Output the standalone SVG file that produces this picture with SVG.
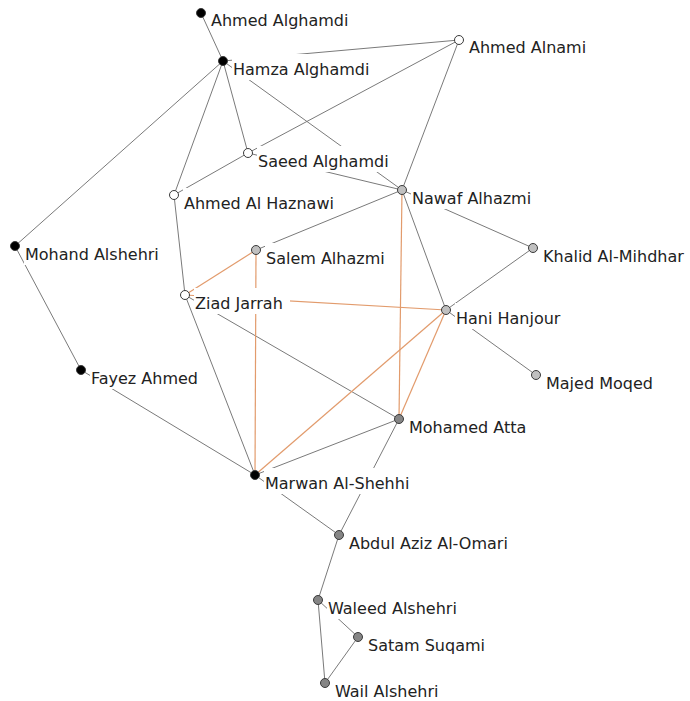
<svg xmlns="http://www.w3.org/2000/svg" width="690" height="701" viewBox="0 0 690 701">
<style>
.e{stroke:#7a7a7a;stroke-width:1;fill:none}
.o{stroke:#e29b6c;stroke-width:1.2;fill:none}
.bg{fill:#ffffff}
circle{stroke:#3a3a3a;stroke-width:1}
.k{fill:#000000}
.w{fill:#ffffff}
.l{fill:#c0c0c0}
.d{fill:#858585}
text{font-family:"DejaVu Sans",Verdana,sans-serif;font-size:16px;fill:#222222}
</style>
<rect width="690" height="701" fill="#ffffff"/>
<g id="connectors">
<line class="e" x1="201" y1="13" x2="223" y2="61"/>
<line class="e" x1="223" y1="61" x2="459" y2="40"/>
<line class="e" x1="223" y1="61" x2="248" y2="153"/>
<line class="e" x1="223" y1="61" x2="174" y2="195"/>
<line class="e" x1="223" y1="61" x2="15" y2="246"/>
<line class="e" x1="223" y1="61" x2="402" y2="190"/>
<line class="e" x1="459" y1="40" x2="248" y2="153"/>
<line class="e" x1="459" y1="40" x2="402" y2="190"/>
<line class="e" x1="248" y1="153" x2="174" y2="195"/>
<line class="e" x1="248" y1="153" x2="402" y2="190"/>
<line class="e" x1="174" y1="195" x2="185" y2="295"/>
<line class="e" x1="402" y1="190" x2="256" y2="250"/>
<line class="e" x1="402" y1="190" x2="533" y2="248"/>
<line class="e" x1="402" y1="190" x2="446" y2="310"/>
<line class="e" x1="446" y1="310" x2="533" y2="248"/>
<line class="e" x1="446" y1="310" x2="536" y2="375"/>
<line class="e" x1="185" y1="295" x2="399" y2="419"/>
<line class="e" x1="185" y1="295" x2="255" y2="475"/>
<line class="e" x1="15" y1="246" x2="81" y2="370"/>
<line class="e" x1="81" y1="370" x2="255" y2="475"/>
<line class="e" x1="399" y1="419" x2="255" y2="475"/>
<line class="e" x1="399" y1="419" x2="339" y2="535"/>
<line class="e" x1="255" y1="475" x2="339" y2="535"/>
<line class="e" x1="339" y1="535" x2="318" y2="600"/>
<line class="e" x1="318" y1="600" x2="358" y2="637"/>
<line class="e" x1="318" y1="600" x2="325" y2="683"/>
<line class="e" x1="358" y1="637" x2="325" y2="683"/>
<line class="o" x1="402" y1="190" x2="399" y2="419"/>
<line class="o" x1="256" y1="250" x2="185" y2="295"/>
<line class="o" x1="256" y1="250" x2="255" y2="475"/>
<line class="o" x1="185" y1="295" x2="446" y2="310"/>
<line class="o" x1="446" y1="310" x2="399" y2="419"/>
<line class="o" x1="446" y1="310" x2="255" y2="475"/>
</g>
<g id="n-ahmed-alghamdi"><rect class="bg" x="210" y="6" width="144" height="26"/><circle class="k" cx="201" cy="13" r="4.5"/><text x="211" y="26">Ahmed Alghamdi</text></g>
<g id="n-hamza-alghamdi"><rect class="bg" x="232" y="54" width="143" height="26"/><circle class="k" cx="223" cy="61" r="4.5"/><text x="233" y="75">Hamza Alghamdi</text></g>
<g id="n-ahmed-alnami"><rect class="bg" x="468" y="33" width="124" height="26"/><circle class="w" cx="459" cy="40" r="4.5"/><text x="469" y="53">Ahmed Alnami</text></g>
<g id="n-saeed-alghamdi"><rect class="bg" x="257" y="146" width="137" height="26"/><circle class="w" cx="248" cy="153" r="4.5"/><text x="258" y="167">Saeed Alghamdi</text></g>
<g id="n-ahmed-al-haznawi"><rect class="bg" x="183" y="188" width="156" height="26"/><circle class="w" cx="174" cy="195" r="4.5"/><text x="184" y="209">Ahmed Al Haznawi</text></g>
<g id="n-nawaf-alhazmi"><rect class="bg" x="411" y="183" width="126" height="26"/><circle class="l" cx="402" cy="190" r="4.5"/><text x="412" y="204">Nawaf Alhazmi</text></g>
<g id="n-mohand-alshehri"><rect class="bg" x="24" y="239" width="141" height="26"/><circle class="k" cx="15" cy="246" r="4.5"/><text x="25" y="260">Mohand Alshehri</text></g>
<g id="n-salem-alhazmi"><rect class="bg" x="265" y="243" width="126" height="26"/><circle class="l" cx="256" cy="250" r="4.5"/><text x="266" y="264">Salem Alhazmi</text></g>
<g id="n-khalid-al-mihdhar"><rect class="bg" x="542" y="241" width="147" height="26"/><circle class="l" cx="533" cy="248" r="4.5"/><text x="543" y="262">Khalid Al-Mihdhar</text></g>
<g id="n-ziad-jarrah"><rect class="bg" x="194" y="288" width="96" height="26"/><circle class="w" cx="185" cy="295" r="4.5"/><text x="195" y="309">Ziad Jarrah</text></g>
<g id="n-hani-hanjour"><rect class="bg" x="455" y="303" width="111" height="26"/><circle class="l" cx="446" cy="310" r="4.5"/><text x="456" y="324">Hani Hanjour</text></g>
<g id="n-majed-moqed"><rect class="bg" x="545" y="368" width="114" height="26"/><circle class="l" cx="536" cy="375" r="4.5"/><text x="546" y="389">Majed Moqed</text></g>
<g id="n-fayez-ahmed"><rect class="bg" x="90" y="363" width="115" height="26"/><circle class="k" cx="81" cy="370" r="4.5"/><text x="91" y="384">Fayez Ahmed</text></g>
<g id="n-mohamed-atta"><rect class="bg" x="408" y="412" width="124" height="26"/><circle class="d" cx="399" cy="419" r="4.5"/><text x="409" y="433">Mohamed Atta</text></g>
<g id="n-marwan-al-shehhi"><rect class="bg" x="264" y="468" width="151" height="26"/><circle class="k" cx="255" cy="475" r="4.5"/><text x="265" y="489">Marwan Al-Shehhi</text></g>
<g id="n-abdul-aziz-al-omari"><rect class="bg" x="348" y="528" width="165" height="26"/><circle class="d" cx="339" cy="535" r="4.5"/><text x="349" y="549">Abdul Aziz Al-Omari</text></g>
<g id="n-waleed-alshehri"><rect class="bg" x="327" y="593" width="146" height="26"/><circle class="d" cx="318" cy="600" r="4.5"/><text x="328" y="614">Waleed Alshehri</text></g>
<g id="n-satam-suqami"><rect class="bg" x="367" y="630" width="124" height="26"/><circle class="d" cx="358" cy="637" r="4.5"/><text x="368" y="651">Satam Suqami</text></g>
<g id="n-wail-alshehri"><rect class="bg" x="334" y="676" width="111" height="25"/><circle class="d" cx="325" cy="683" r="4.5"/><text x="335" y="697">Wail Alshehri</text></g>
</svg>
